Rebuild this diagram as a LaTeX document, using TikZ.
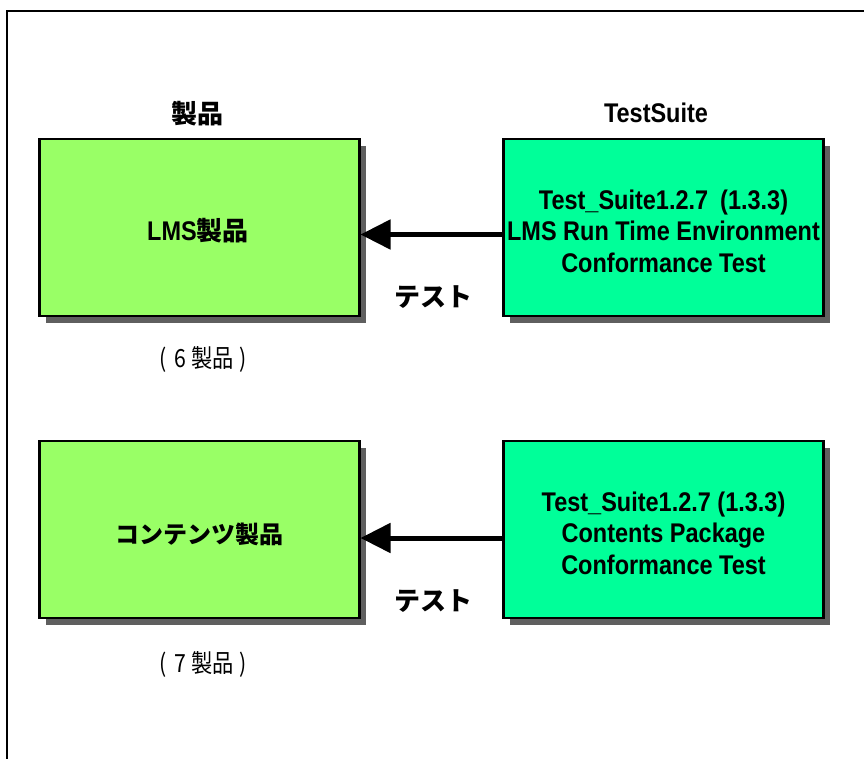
\documentclass[tikz,border=0pt]{standalone}
\usepackage{fontspec}
\setmainfont{Liberation Sans}
\newfontfamily\lat[FakeStretch=0.87]{Liberation Sans}
\newfontfamily\jp{Noto Sans CJK JP}
\newfontfamily\jpn[FakeStretch=0.85]{Noto Sans CJK JP}
\usetikzlibrary{arrows.meta,shadows}
\definecolor{prodgreen}{RGB}{153,255,102}
\definecolor{suitegreen}{RGB}{0,255,153}
\definecolor{shadowgray}{RGB}{95,95,95}
\tikzset{
  box/.style={draw=black, line width=2.5pt, minimum width=320pt, minimum height=177pt,
    inner sep=0pt, align=center,
    drop shadow={shadow xshift=7pt, shadow yshift=-7pt, fill=shadowgray, opacity=1}},
  prodbox/.style={box, fill=prodgreen},
  suitebox/.style={box, fill=suitegreen},
  txt/.style={font=\lat\bfseries\fontsize{27}{31.5}\selectfont, align=center, inner sep=0pt},
  jptxt/.style={font=\jp\bfseries\fontsize{26}{30}\selectfont, inner sep=0pt},
  note/.style={font=\jpn\fontsize{25}{28}\selectfont, inner sep=0pt},
  testarrow/.style={line width=5pt, -{Triangle[length=30pt,width=29pt]}},
  frameline/.style={line width=2pt, black}
}
\begin{document}
\begin{tikzpicture}[x=1pt,y=-1pt]
\useasboundingbox (0,0) rectangle (864,759);
% frame
\coordinate (ftr) at (864,11);
\coordinate (ftl) at (7,11);
\coordinate (fbl) at (7,759);
\draw[frameline] (ftr) -- (ftl) -- (fbl);
% headers
\node[jptxt] (hprod) at (197,114) {製品};
\node[txt] (hsuite) at (656,113) {TestSuite};
% boxes
\node[prodbox] (p1) at (199.25,227.5) {};
\node[txt] (p1t) at (198,231) {LMS{\jp\fontsize{26}{30}\selectfont 製品}};
\node[suitebox] (s1) at (663.25,227.5) {};
\node[txt] (s1t) at (663.5,231) {Test\_Suite1.2.7\hspace{12pt}(1.3.3)\\LMS Run Time Environment\\Conformance Test};
\node[prodbox] (p2) at (199.25,529.5) {};
\node[jptxt, font=\jp\bfseries\fontsize{24}{28}\selectfont] (p2t) at (199.5,534) {コンテンツ製品};
\node[suitebox] (s2) at (663.25,529.5) {};
\node[txt] (s2t) at (663.5,533) {Test\_Suite1.2.7 (1.3.3)\\Contents Package\\Conformance Test};
% arrows
\draw[testarrow] (s1.west |- 0,234.5) -- (p1.east |- 0,234.5);
\draw[testarrow] (s2.west |- 0,538) -- (p2.east |- 0,538);
\node[jptxt] (t1) at (433,297) {テスト};
\node[jptxt] (t2) at (433,601) {テスト};
% notes
\node[note] (n1) at (203,359) {(\hspace{8pt}6\hspace{5pt}製品\hspace{5pt})};
\node[note] (n2) at (203,664) {(\hspace{8pt}7\hspace{5pt}製品\hspace{5pt})};
\end{tikzpicture}
\end{document}
